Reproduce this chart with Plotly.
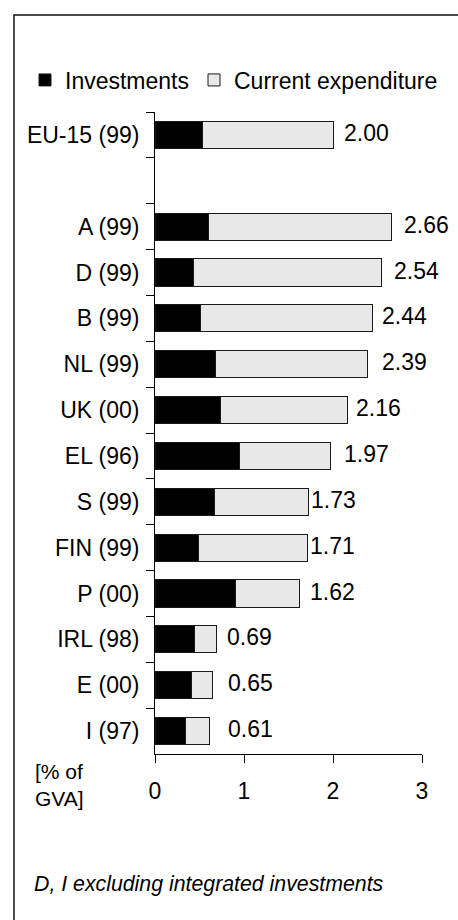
import plotly.graph_objects as go

# Environmental protection expenditure by sector, % of gross value added
countries = ["EU-15 (99)", "A (99)", "D (99)", "B (99)", "NL (99)", "UK (00)",
             "EL (96)", "S (99)", "FIN (99)", "P (00)", "IRL (98)", "E (00)", "I (97)"]
investments = [0.53, 0.60, 0.43, 0.51, 0.685, 0.74, 0.95, 0.67, 0.49, 0.90, 0.44, 0.41, 0.34]
totals = [2.00, 2.66, 2.54, 2.44, 2.39, 2.16, 1.97, 1.73, 1.71, 1.62, 0.69, 0.65, 0.61]
current = [round(t - i, 3) for t, i in zip(totals, investments)]
x_ticks = [0, 1, 2, 3]

# pixel nudges of the total labels to the right of each bar end
label_nudge_px = [9, 10, 11, 8, 12, 7, 12, 0, 1, 9, 9, 13, 17]

GAP = " "  # empty row separating the EU-15 aggregate from the member states
rows = [countries[0], GAP] + countries[1:]
inv_rows = [investments[0], None] + investments[1:]
cur_rows = [current[0], None] + current[1:]

W, H = 458, 920
L, R, T, B = 155, 36, 112, 166
PW, PH = W - L - R, H - T - B

def px_x(px):
    return (px - L) / PW

def px_y(py):
    return 1 - (py - T) / PH

FONT = "Liberation Sans, Arial, sans-serif"
FS = 23

fig = go.Figure()
fig.add_trace(go.Bar(
    y=rows, x=inv_rows, orientation="h", name="Investments",
    marker=dict(color="#000000", line=dict(color="#1a1a1a", width=1)),
    hoverinfo="skip",
))
fig.add_trace(go.Bar(
    y=rows, x=cur_rows, orientation="h", name="Current expenditure",
    marker=dict(color="#e8e8e8", line=dict(color="#1a1a1a", width=1)),
    hoverinfo="skip",
))

annotations = []
for c, t, dx in zip(countries, totals, label_nudge_px):
    annotations.append(dict(
        x=t, y=c, xref="x", yref="y", text=f"{t:.2f}", showarrow=False,
        xanchor="left", yanchor="middle", xshift=dx, yshift=2,
        font=dict(family=FONT, size=FS, color="#000000"),
    ))

annotations.append(dict(
    x=px_x(33), y=px_y(785), xref="paper", yref="paper",
    text="[% of<br>GVA]", showarrow=False, xanchor="left", yanchor="middle",
    align="left", font=dict(family=FONT, size=21, color="#000000"),
))
annotations.append(dict(
    x=px_x(32), y=px_y(884), xref="paper", yref="paper",
    text="<i>D, I excluding integrated investments</i>", showarrow=False,
    xanchor="left", yanchor="middle",
    font=dict(family=FONT, size=21.3, color="#000000"),
))

# outer frame of the chart area (continues beyond the right and bottom edges)
shapes = [dict(
    type="path", xref="paper", yref="paper",
    path=(f"M {px_x(W + 20)},{px_y(15)} L {px_x(14)},{px_y(15)} "
          f"L {px_x(14)},{px_y(H + 20)}"),
    line=dict(color="#111111", width=1.5),
)]

fig.update_layout(
    width=W, height=H,
    margin=dict(l=L, r=R, t=T, b=B, pad=0),
    paper_bgcolor="white", plot_bgcolor="white",
    barmode="stack", bargap=0.41,
    font=dict(family=FONT, size=FS, color="#000000"),
    showlegend=True,
    legend=dict(
        orientation="h", x=px_x(25), y=px_y(80), xanchor="left", yanchor="middle",
        font=dict(family=FONT, size=FS, color="#000000"),
        bgcolor="rgba(0,0,0,0)", traceorder="normal",
        itemwidth=30, tracegroupgap=0,
    ),
    xaxis=dict(
        range=[0, 3], tickvals=x_ticks, ticktext=[str(v) for v in x_ticks],
        showgrid=False, zeroline=False, showline=True, linecolor="#000000", linewidth=1,
        ticks="outside", ticklen=8, tickcolor="#000000", tickwidth=1,
        ticklabelstandoff=8,
        tickfont=dict(family=FONT, size=FS, color="#000000"),
    ),
    yaxis=dict(
        type="category", categoryorder="array", categoryarray=rows,
        range=[len(rows) - 0.5, -0.5],
        showgrid=False, zeroline=False, showline=True, linecolor="#000000", linewidth=1,
        ticks="outside", tickson="boundaries", ticklen=8, tickcolor="#000000", tickwidth=1,
        ticklabelstandoff=10,
        tickfont=dict(family=FONT, size=FS, color="#000000"),
    ),
    annotations=annotations,
    shapes=shapes,
)

fig.write_html("out.html")
